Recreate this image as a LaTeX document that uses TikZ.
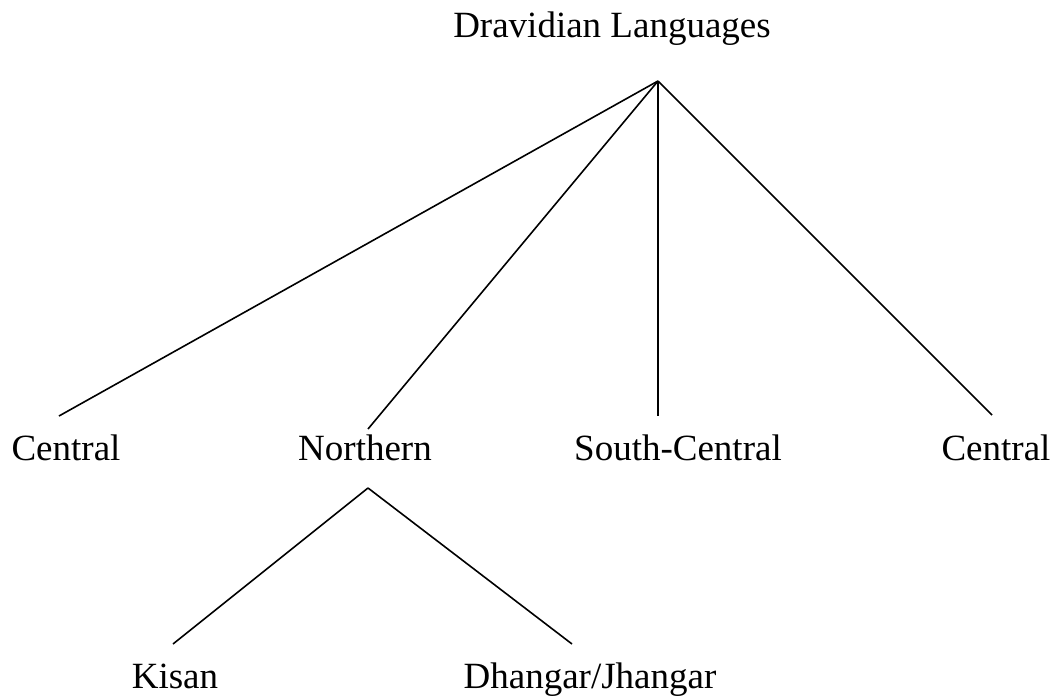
\documentclass[tikz,border=0pt]{standalone}
\usepackage{fontspec}
\setmainfont{Liberation Serif}
\usetikzlibrary{positioning}
\begin{document}
\begin{tikzpicture}[x=0.5pt,y=-0.5pt]
\tikzset{
  langnode/.style={anchor=base,inner sep=0pt,font=\fontsize{18.5}{22}\selectfont},
  branch/.style={line width=0.8pt}
}
\useasboundingbox (0,0) rectangle (1056,697);
\node[langnode] (n_root) at (612,37) {Dravidian Languages};
\node[langnode] (n_c1) at (66,460) {Central};
\node[langnode] (n_no) at (365,460) {Northern};
\node[langnode] (n_sc) at (678,460) {South-Central};
\node[langnode] (n_c2) at (996,460) {Central};
\node[langnode] (n_ki) at (175,688) {Kisan};
\node[langnode] (n_dh) at (590,688) {Dhangar/Jhangar};
\coordinate (c_root) at (658,81);
\coordinate (c_c1) at (59,416);
\coordinate (c_no) at (368,429);
\coordinate (c_sc) at (658,416);
\coordinate (c_c2) at (992,415);
\coordinate (c_nodown) at (368,488);
\coordinate (c_ki) at (173,644);
\coordinate (c_dh) at (572,644);
\draw[branch] (c_root) -- (c_c1);
\draw[branch] (c_root) -- (c_no);
\draw[branch] (c_root) -- (c_sc);
\draw[branch] (c_root) -- (c_c2);
\draw[branch] (c_nodown) -- (c_ki);
\draw[branch] (c_nodown) -- (c_dh);
\end{tikzpicture}
\end{document}
